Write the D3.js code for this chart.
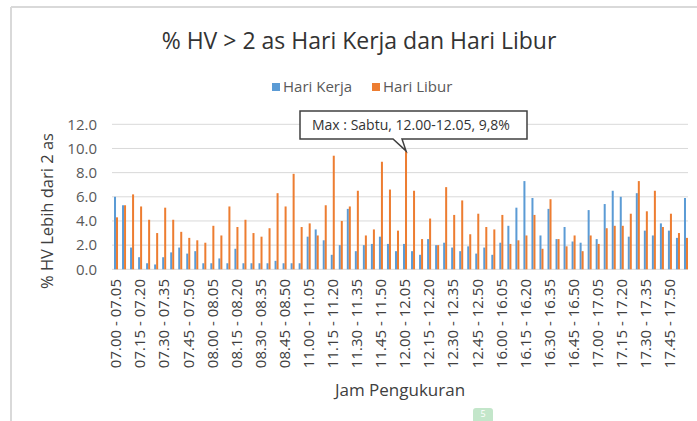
<!DOCTYPE html>
<html>
<head>
<meta charset="utf-8" />
<title>% HV > 2 as</title>
<script src="https://d3js.org/d3.v7.min.js"></script>
<style>
  body { margin: 0; background: #fff; }
  text { font-family: "Open Sans", sans-serif; }
</style>
</head>
<body>
<svg id="chart" width="697" height="421"></svg>
<script>
// start hours of the three measuring sessions (2 hours each, 5 minute steps)
var sessionHours = [7, 8, 11, 12, 16, 17];

var hariKerja = [
  6.0, 5.3, 1.8, 1.0, 0.5, 0.4, 1.0, 1.4, 1.8, 1.3, 1.5, 0.5, 0.5, 0.9, 0.5, 1.7, 0.5, 0.5, 0.5, 0.5, 0.7, 0.5, 0.5, 0.5,
  2.7, 3.3, 2.4, 1.2, 2.0, 5.0, 1.5, 2.0, 2.1, 2.7, 2.1, 1.5, 2.1, 1.5, 1.2, 2.5, 2.0, 2.2, 1.8, 1.5, 1.9, 1.3, 1.8, 1.2,
  2.2, 3.6, 5.1, 7.3, 5.9, 2.8, 5.0, 2.5, 3.5, 2.3, 2.2, 4.9, 2.5, 5.4, 6.5, 6.0, 2.7, 6.3, 3.2, 2.8, 3.8, 3.2, 2.6, 5.9
];
var hariLibur = [
  4.3, 5.3, 6.2, 5.2, 4.1, 3.0, 5.1, 4.1, 3.1, 2.6, 2.4, 2.2, 3.6, 2.8, 5.2, 3.5, 4.1, 3.0, 2.7, 3.4, 6.3, 5.2, 7.9, 3.5,
  3.8, 2.8, 5.3, 9.4, 4.0, 5.2, 6.5, 2.8, 3.3, 8.9, 6.6, 3.2, 9.8, 6.5, 2.5, 4.2, 2.0, 6.8, 4.5, 5.7, 2.9, 4.6, 3.5, 3.3,
  4.5, 2.1, 2.4, 2.8, 4.5, 1.7, 5.8, 2.5, 1.9, 2.8, 1.5, 2.8, 2.1, 3.4, 3.6, 3.6, 4.6, 7.3, 4.8, 6.5, 3.5, 4.6, 3.0, 2.6
];
var seriesNames = ["Hari Kerja", "Hari Libur"];
var seriesColors = ["#5B9BD5", "#ED7D31"];
var yTicks = [0, 2, 4, 6, 8, 10, 12];
var maxNote = "Max : Sabtu, 12.00-12.05, 9,8%";

function pad(n) { return (n < 10 ? "0" : "") + n; }
var categories = [];
sessionHours.forEach(function(h) {
  for (var m = 0; m < 60; m += 5) {
    var h2 = m + 5 == 60 ? h + 1 : h;
    var m2 = (m + 5) % 60;
    categories.push(pad(h) + "." + pad(m) + " - " + pad(h2) + "." + pad(m2));
  }
});

var data = categories.map(function(c, i) {
  return { cat: c, values: [hariKerja[i], hariLibur[i]] };
});

var svg = d3.select("#chart");

// outer frame
svg.append("line").attr("x1", 11).attr("x2", 697).attr("y1", 7).attr("y2", 7)
  .attr("stroke", "#d9d9d9").attr("stroke-width", 2);
svg.append("line").attr("x1", 11).attr("x2", 11).attr("y1", 7).attr("y2", 421)
  .attr("stroke", "#d9d9d9").attr("stroke-width", 2);

var plotLeft = 112, plotRight = 690, plotTop = 124.3, plotBottom = 269.3;

var x = d3.scaleBand().domain(categories).range([plotLeft, plotRight]).paddingInner(0.5).paddingOuter(0.25);
var xSub = d3.scaleBand().domain([0, 1]).range([0, x.bandwidth()]);
var y = d3.scaleLinear().domain([0, 12]).range([plotBottom, plotTop]);

// gridlines
svg.append("g").selectAll("line").data(yTicks).enter().append("line")
  .attr("x1", plotLeft).attr("x2", plotRight - 2)
  .attr("y1", function(d) { return y(d); }).attr("y2", function(d) { return y(d); })
  .attr("stroke", "#d9d9d9").attr("stroke-width", 1);

// y tick labels
svg.append("g").selectAll("text").data(yTicks).enter().append("text")
  .attr("x", 97).attr("y", function(d) { return y(d); }).attr("dy", "0.35em")
  .attr("text-anchor", "end").attr("font-size", 15).attr("fill", "#595959")
  .text(function(d) { return d3.format(".1f")(d); });

// bars
var groups = svg.append("g").selectAll("g").data(data).enter().append("g")
  .attr("transform", function(d) { return "translate(" + x(d.cat) + ",0)"; });
groups.selectAll("rect").data(function(d) { return d.values; }).enter().append("rect")
  .attr("x", function(v, i) { return xSub(i); })
  .attr("width", xSub.bandwidth())
  .attr("y", function(v) { return y(v); })
  .attr("height", function(v) { return y(0) - y(v); })
  .attr("fill", function(v, i) { return seriesColors[i]; });

// x tick labels (every 3rd category)
svg.append("g").selectAll("text").data(categories.filter(function(c, i) { return i % 3 == 0; }))
  .enter().append("text")
  .attr("transform", function(d) {
    return "translate(" + (x(d) + x.bandwidth() / 2) + "," + 279 + ") rotate(-90)";
  })
  .attr("dy", "0.35em").attr("text-anchor", "end")
  .attr("font-size", 15).attr("fill", "#404040")
  .text(function(d) { return d; });

// axis titles
svg.append("text").attr("transform", "translate(47,211) rotate(-90)")
  .attr("dy", "0.35em").attr("text-anchor", "middle")
  .attr("font-size", 16.5).attr("fill", "#404040").text("% HV Lebih dari 2 as");
svg.append("text").attr("x", 400).attr("y", 396).attr("text-anchor", "middle")
  .attr("font-size", 17).attr("fill", "#404040").text("Jam Pengukuran");

// title
svg.append("text").attr("x", 359).attr("y", 49).attr("text-anchor", "middle")
  .attr("font-size", 23).attr("fill", "#333").text("% HV > 2 as Hari Kerja dan Hari Libur");

// legend
var legendX = [272, 372];
var legend = svg.append("g").selectAll("g").data(seriesNames).enter().append("g")
  .attr("transform", function(d, i) { return "translate(" + legendX[i] + ",87)"; });
legend.append("rect").attr("x", 0).attr("y", -4).attr("width", 8).attr("height", 8)
  .attr("fill", function(d, i) { return seriesColors[i]; });
legend.append("text").attr("x", 11).attr("dy", "0.35em").attr("font-size", 15)
  .attr("fill", "#595959").text(function(d) { return d; });

// max callout
var maxIdx = hariLibur.indexOf(d3.max(hariLibur));
var tipX = x(categories[maxIdx]) + xSub(1) + xSub.bandwidth() / 2;
var tipY = y(hariLibur[maxIdx]);
svg.append("path")
  .attr("d", "M300,111 H527 V139 H" + (tipX - 4) + " L" + tipX + "," + tipY + " L" + (tipX - 13) + ",139 H300 Z")
  .attr("fill", "#fff").attr("stroke", "#404040").attr("stroke-width", 1.5);
svg.append("text").attr("x", 312).attr("y", 130).attr("font-size", 14)
  .attr("fill", "#333").text(maxNote);

// small green page marker at the bottom
svg.append("rect").attr("x", 473).attr("y", 408).attr("width", 20).attr("height", 20)
  .attr("rx", 3).attr("fill", "#c3e6ca");
svg.append("text").attr("x", 483).attr("y", 417).attr("text-anchor", "middle")
  .attr("font-size", 9).attr("fill", "#fff").text("5");
</script>
</body>
</html>
